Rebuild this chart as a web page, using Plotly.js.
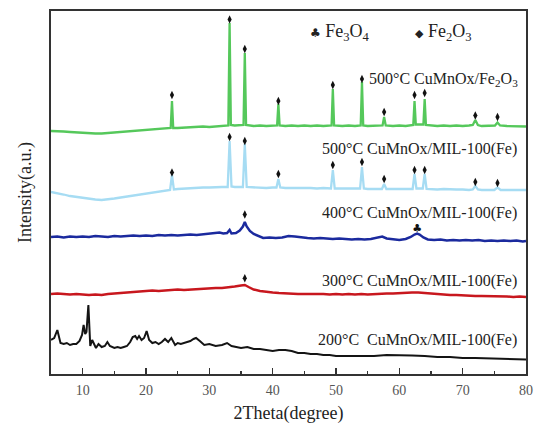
<!DOCTYPE html>
<html>
<head>
<meta charset="utf-8">
<script src="https://cdn.plot.ly/plotly-3.0.1.min.js"></script>
<style>html,body{margin:0;padding:0;background:#fff}#chart{width:534px;height:424px}</style>
</head>
<body>
<div id="chart"></div>
<script>
// ---- Data (2θ in degrees, intensity in arbitrary units) ----
const tt200 = [5,5.5,6.0,6.5,7.0,7.5,8.0,8.5,9.0,9.5,9.9,10.15,10.4,10.6,10.9,11.2,11.5,11.8,12.1,12.5,13.0,13.5,13.9,14.3,15,15.5,16,16.5,17,17.5,17.9,18.3,18.6,18.9,19.3,19.7,20.1,20.5,21,21.5,22,22.5,23,23.5,24.0,24.6,25,25.5,26,26.5,27,27.5,27.9,28.5,29.2,30,31,32,32.8,33.5,35,36,37,38,39,40,41,42,43,44,45,46,47,48,49,50,52,54,56,58,60,62,64,66,68,70,72,74,76,78,80];
const int200 = [34,36,44,31,30,31,29,30,30,33,39,49,40,42,69,28,34,29,26,30,27,28,32,28,26,27,26,27,28,32,37,38,35,38,34,36,43,34,31,32,30,32,35,32,36,29,31,30,31,32,33,35,36,33,29,30,28,29,31,28,26,27,25,25,24,23,24,24,23,21,21,20,20,19,19,18,18,18,18,19,19,18.5,18,17,17,16,16,15.5,15,15,14.5];

const tt300 = [5,6,7,8,9,10,11,12,13,14,15,16,17,18,19,20,21,22,23,24,25,26,27,28,29,30,31,32,33,34,35,35.6,36.2,37,38,39,40,41,42,43,44,45,46,47,48,49,50,51,52,53,54,55,56,57,58,59,60,61,62,63,64,65,66,67,68,69,70,71,72,73,74,75,76,77,78,79,80];
const int300 = [80,80.5,80,79.5,80,79.5,79,79.5,79,80,80.5,81.5,82,82.5,82.3,83,83.5,83,83.5,84,84.5,84,84.5,85,85,85.5,86,86,86.5,87.5,88.5,89,87,84.5,83,82,81.5,81,80.5,80.5,80,80,80,80.5,80,79.5,80,79.5,80,79.5,80,79.5,80,80,80.5,80.5,81,81,81.5,81.5,81,80,79.5,79,79,79,78.5,78.5,78,78,78,77.5,77.5,77.5,77,77.5,77];

const tt400 = [5,6,7,8,9,10,11,12,13,14,15,16,17,18,19,20,21,22,23,24,25,26,27,28,29,30,31,31.6,32.2,32.8,33.2,33.5,34.2,34.8,35.3,35.6,35.9,36.4,37,37.8,38.5,39.5,40.5,41.5,42.5,43.5,44.5,45.5,46.5,47.5,48.5,49.5,50.5,51.5,52.5,53.5,54.5,55.5,56.5,57.3,58,59,60,61,61.8,62.4,62.8,63.2,63.8,64.5,65.5,66.5,67.5,68.5,69.5,70.5,71.5,72.5,73.5,74.5,75.5,76.5,77.5,78.5,79.5,80];
const int400 = [137,137.5,136.5,137.5,137,137.5,137,138,137.5,137,138,137.5,138,138.5,138,138.5,138,139,138.5,139,138.5,139,139.5,139,139.5,140,141,141.5,140.5,141,144,140.5,141,143.5,147.5,152,147.5,143,140,137.5,136,136.5,136,136.5,138,137.5,136.5,136,135.5,136,135.5,135,135.5,135,134.5,135,134.5,135,136,137.5,135.5,134.5,134,135,137,139.5,140.5,139.5,136.5,134.5,134,134.5,133.5,134,133.5,134,133.5,134,133,133.5,133,133.5,133,133.5,132.5,133];

const ttMIL500 = [5,6,7,8,9,10,11,12,13,14,15,16,17,18,19,20,21,22,23,23.8,24.1,24.4,25,26,27,28,29,30,31,32,32.9,33.2,33.5,34,35.3,35.6,35.9,37,38,39,40,40.6,40.9,41.2,42,43,44,45,46,47,48,49.2,49.5,49.8,51,52,53,53.8,54.1,54.4,55,56,57.25,57.6,57.95,59,60,61,62.1,62.4,62.7,63.7,64.0,64.3,65,66,67,68,69,70,71,71.6,72.0,72.4,73,74,75,75.5,76,77,78,79,80];
const intMIL500 = [182,181,179.5,178,177,176,175,174.5,174,174.5,175.5,176.5,177.5,178.5,179.5,180.5,181.5,182.5,183.5,184,199,184.5,185,185.5,186,186,186.5,186.5,187,187,187,233,187.5,187,187,230,187,186.5,186.5,186,186.5,186.5,195,186.5,186,186,186.5,186,186,185.5,186,185.5,204,185.5,185.5,185,185.5,185.5,207,185.5,185,185,185,190,185,185,185,184.5,185,200,185.5,185.5,200,185,184.5,184.5,185,184.5,184.5,184.5,184,184.5,188,184.5,184,184,184,186.5,184,184,184,183.5,184];

const ttFe500 = [5,6,7,8,9,10,11,12,13,14,15,16,17,18,19,20,21,22,23,23.9,24.1,24.3,25,26,27,28,29,30,31,32,33.0,33.2,33.4,34,35.4,35.6,35.8,37,38,39,40,40.7,40.9,41.1,42,43,44,45,46,47,48,49.3,49.5,49.7,51,52,53,53.9,54.1,54.3,55,56,57.35,57.6,57.85,59,60,61,62.2,62.4,62.6,63.8,64.0,64.2,65,66,67,68,69,70,71,71.6,72.0,72.4,73,74,75.1,75.5,75.9,77,78,79,80];
const intFe500 = [243,243,242.5,242,241.5,241,241,240.5,240.5,241,241.5,242,242.5,243,243.5,244,244.5,245,245.5,246,273,246,246,246.5,247,247,247.5,247,247.5,248,248.5,351,249,248.5,249,321,249,248,248.5,248,248.5,248.5,270,248.5,248,248.5,248,248.5,248,248.5,248,248.5,285,248.5,248,248.5,248,248.5,292,248.5,248,248.5,248.5,257,248.5,248,248.5,248,249,273,249.5,249.5,275,249,248.5,248,248.5,248,248.5,248,248.5,249,254,249,248,248.5,248.5,251.5,248.5,248,248,247.5,247.5];

// Phase markers (♦ Fe2O3, ♣ Fe3O4): peak positions and marker heights
const fe2o3Peaks = [24.1,33.2,35.6,40.9,49.5,54.1,57.6,62.4,64.0,72.0,75.5];
const markFe500 = [279,354.6,325,273,289,295,262,279,281,258.5,257];
const markMIL500 = [201.5,237,233,200,209,212,195,204,204,192,191];
const mark400Fe2O3 = {x:[35.6], y:[159.5]};
const mark400Fe3O4 = {x:[62.8], y:[145]};
const mark300Fe2O3 = {x:[35.6], y:[95.7]};

const sampleLabels = ["200°C  CuMnOx/MIL-100(Fe)","300°C CuMnOx/MIL-100(Fe)","400°C CuMnOx/MIL-100(Fe)","500°C CuMnOx/MIL-100(Fe)","500°C CuMnOx/Fe<sub>2</sub>O<sub>3</sub>"];
const labelY = [34,93,161,225.3,294.3];

const serif = "Liberation Serif, Times New Roman, serif";
const line = (x,y,color,w) => ({x:x,y:y,type:'scatter',mode:'lines',line:{color:color,width:w,shape:'linear'},hoverinfo:'skip',showlegend:false});
const diam = (x,y) => ({x:x,y:y,type:'scatter',mode:'markers',marker:{symbol:'diamond-tall',size:6,color:'#111'},showlegend:false,hoverinfo:'skip'});

const traces = [
  line(tt200,int200,'#141414',2),
  line(tt300,int300,'#c8171e',2.5),
  line(tt400,int400,'#1b2a9e',2.5),
  line(ttMIL500,intMIL500,'#a6dcf3',2.3),
  line(ttFe500,intFe500,'#55c85b',2.3),
  diam(fe2o3Peaks,markFe500),
  diam(fe2o3Peaks,markMIL500),
  diam(mark400Fe2O3.x,mark400Fe2O3.y),
  diam(mark300Fe2O3.x,mark300Fe2O3.y),
  {x:mark400Fe3O4.x,y:mark400Fe3O4.y,type:'scatter',mode:'text',text:['♣'],textfont:{size:11,color:'#111',family:'DejaVu Sans'},textposition:'middle center',showlegend:false,hoverinfo:'skip'}
];

const annotations = [];
for (let i=0;i<4;i++){
  annotations.push({x:78.9,y:labelY[i],xref:'x',yref:'y',text:sampleLabels[i],showarrow:false,xanchor:'right',yanchor:'middle',font:{family:serif,size:16,color:'#222'}});
}
annotations.push({x:54.9,y:labelY[4],xref:'x',yref:'y',text:sampleLabels[4],showarrow:false,xanchor:'left',yanchor:'middle',font:{family:serif,size:16,color:'#222'}});
annotations.push({x:45.5,y:342,xref:'x',yref:'y',text:'<span style="font-family:DejaVu Sans;font-size:12px">♣</span> Fe<sub>3</sub>O<sub>4</sub>',showarrow:false,xanchor:'left',yanchor:'middle',font:{family:serif,size:18,color:'#222'}});
annotations.push({x:62.2,y:342,xref:'x',yref:'y',text:'<span style="font-family:DejaVu Sans;font-size:11px">◆</span> Fe<sub>2</sub>O<sub>3</sub>',showarrow:false,xanchor:'left',yanchor:'middle',font:{family:serif,size:18,color:'#222'}});

const layout = {
  width:534,height:424,
  margin:{l:51,r:8,t:11,b:50},
  paper_bgcolor:'#fff',plot_bgcolor:'#fff',
  showlegend:false,
  xaxis:{range:[5,80],tickvals:[10,20,30,40,50,60,70,80],ticks:'inside',ticklen:6,tickwidth:1.5,tickcolor:'#333',
    minor:{dtick:5,tick0:5,ticks:'inside',ticklen:3,tickwidth:1.2,tickcolor:'#333'},
    showline:true,linewidth:2,linecolor:'#333',mirror:true,showgrid:false,zeroline:false,
    tickfont:{family:serif,size:14,color:'#555'},ticklabelstandoff:2,
    title:{text:'2Theta(degree)',font:{family:serif,size:18,color:'#222'},standoff:17}},
  yaxis:{range:[0,363],showticklabels:false,ticks:'',showline:true,linewidth:2,linecolor:'#333',mirror:true,showgrid:false,zeroline:false,
    title:{text:'Intensity(a.u.)',font:{family:serif,size:18,color:'#222'},standoff:13}},
  annotations:annotations
};

Plotly.newPlot('chart',traces,layout,{displayModeBar:false,staticPlot:true});
</script>
</body>
</html>
